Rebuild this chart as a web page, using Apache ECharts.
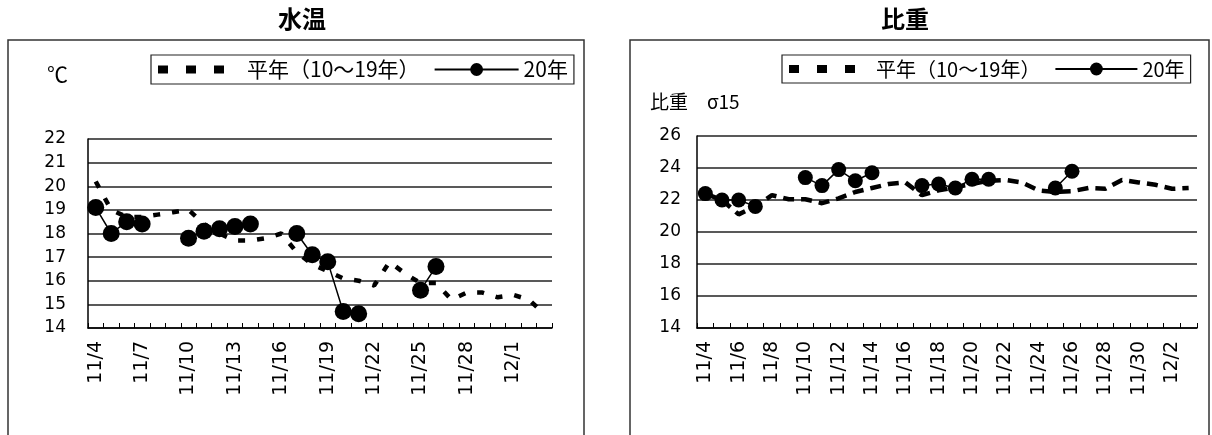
<!DOCTYPE html>
<html>
<head>
<meta charset="utf-8">
<script src="https://cdn.jsdelivr.net/npm/echarts@6/dist/echarts.min.js"></script>
<style>
html,body{margin:0;padding:0;background:#fff;}
#c{width:1212px;height:435px;}
</style>
</head>
<body>
<div id="c"></div>
<script>
// categories: 11/4 .. 12/3
const dates = ['11/4','11/5','11/6','11/7','11/8','11/9','11/10','11/11','11/12','11/13','11/14','11/15','11/16','11/17','11/18','11/19','11/20','11/21','11/22','11/23','11/24','11/25','11/26','11/27','11/28','11/29','11/30','12/1','12/2','12/3'];

const tempNormal = [20.2,19.0,18.7,18.7,18.8,18.9,19.0,18.4,18.0,17.7,17.7,17.8,18.0,17.2,16.7,16.4,16.1,16.0,15.8,16.8,16.3,15.9,15.9,15.2,15.5,15.5,15.3,15.4,15.2,14.6];
const temp2020   = [19.1,18.0,18.5,18.4,null,null,17.8,18.1,18.2,18.3,18.4,null,null,18.0,17.1,16.8,14.7,14.6,null,null,null,15.6,16.6,null,null,null,null,null,null,null];

const sgNormal = [22.4,22.0,21.1,21.6,22.3,22.05,22.05,21.8,22.1,22.5,22.75,23.0,23.1,22.3,22.6,22.8,23.0,23.2,23.25,23.1,22.6,22.5,22.55,22.75,22.7,23.25,23.1,22.95,22.7,22.75];
const sg2020   = [22.4,22.0,22.0,21.6,null,null,23.4,22.9,23.9,23.2,23.7,null,null,22.9,23.0,22.75,23.3,23.3,null,null,null,22.75,23.8,null,null,null,null,null,null,null];

const tempTicks = {min:14, max:22, interval:1};
const sgTicks = {min:14, max:26, interval:2};

const nameNormal = '平年（10～19年）';
const name2020 = '20年';

const numFont = 'DejaVu Sans';
const cjkFont = '"Noto Sans CJK JP", sans-serif';

const chart = echarts.init(document.getElementById('c'), null, {renderer:'canvas'});

function xAxisCfg(gridIndex, labelInterval){
  return {
    type:'category', gridIndex, data:dates, boundaryGap:true,
    axisLine:{show:true, lineStyle:{color:'#000', width:1.5}},
    axisTick:{show:true, inside:true, interval:0, length:5, lineStyle:{color:'#000', width:1}},
    axisLabel:{interval:labelInterval, rotate:90, fontFamily:numFont, fontSize:19, color:'#000', margin:13},
    splitLine:{show:false}
  };
}
function yAxisCfg(gridIndex, t, margin){
  return {
    type:'value', gridIndex, min:t.min, max:t.max, interval:t.interval,
    axisLine:{show:true, lineStyle:{color:'#000', width:1.5}},
    axisTick:{show:false},
    axisLabel:{fontFamily:numFont, fontSize:17, color:'#000', margin:margin},
    splitLine:{show:true, lineStyle:{color:'#222', width:1.5}}
  };
}
function normalSeries(xi, data, dash){
  return {
    name:nameNormal, type:'line', xAxisIndex:xi, yAxisIndex:xi, data,
    symbol:'none', smooth:false, connectNulls:false, z:2,
    lineStyle:{color:'#000', width:4.5, type:dash},
    itemStyle:{color:'#000'}
  };
}
function yearSeries(xi, data, size){
  return {
    name:name2020, type:'line', xAxisIndex:xi, yAxisIndex:xi, data,
    symbol:'circle', symbolSize:size, showSymbol:true, showAllSymbol:true,
    connectNulls:false, z:3,
    lineStyle:{color:'#000', width:1.5},
    itemStyle:{color:'#000'}
  };
}
function legendCfg(left, fs, iw){
  return {
    left, top:55, orient:'horizontal',
    data:[
      {name:nameNormal, itemStyle:{color:'rgba(0,0,0,0)', borderWidth:0, opacity:0}, lineStyle:{color:'#000', width:8, type:[10,18], opacity:1}},
      {name:name2020}
    ],
    itemWidth:iw, itemHeight:16, itemGap:14,
    padding:[4,6,4,3],
    borderColor:'#222', borderWidth:1.2,
    textStyle:{fontFamily:cjkFont, fontSize:fs, color:'#000'},
    selectedMode:false
  };
}

const option = {
  animation:false,
  backgroundColor:'#fff',
  title:[
    {text:'水温', left:297, top:2, textAlign:'center', textStyle:{fontFamily:cjkFont, fontSize:24, fontWeight:'bold', color:'#000'}},
    {text:'比重', left:900, top:2, textAlign:'center', textStyle:{fontFamily:cjkFont, fontSize:24, fontWeight:'bold', color:'#000'}}
  ],
  legend:[legendCfg(151, 21, 84), legendCfg(782, 20, 82)],
  grid:[
    {left:88, top:139, width:464, height:189, containLabel:false},
    {left:697, top:136, width:500, height:192, containLabel:false}
  ],
  xAxis:[xAxisCfg(0,2), xAxisCfg(1,1)],
  yAxis:[yAxisCfg(0,tempTicks,22), yAxisCfg(1,sgTicks,16)],
  series:[
    normalSeries(0, tempNormal, [7,12]),
    yearSeries(0, temp2020, 17),
    normalSeries(1, sgNormal, [11,7]),
    yearSeries(1, sg2020, 15)
  ],
  graphic:[
    {type:'rect', shape:{x:8, y:40, width:576, height:420}, style:{fill:'none', stroke:'#333', lineWidth:1.5}, silent:true, z:-1},
    {type:'rect', shape:{x:630, y:40, width:579, height:420}, style:{fill:'none', stroke:'#333', lineWidth:1.5}, silent:true, z:-1},
    {type:'text', left:47, top:64, style:{text:'℃', fontFamily:cjkFont, fontSize:21, fill:'#000'}},
    {type:'text', left:650, top:92, style:{text:'比重　σ15', fontFamily:cjkFont, fontSize:19, fill:'#000'}}
  ]
};
chart.setOption(option);
</script>
</body>
</html>
